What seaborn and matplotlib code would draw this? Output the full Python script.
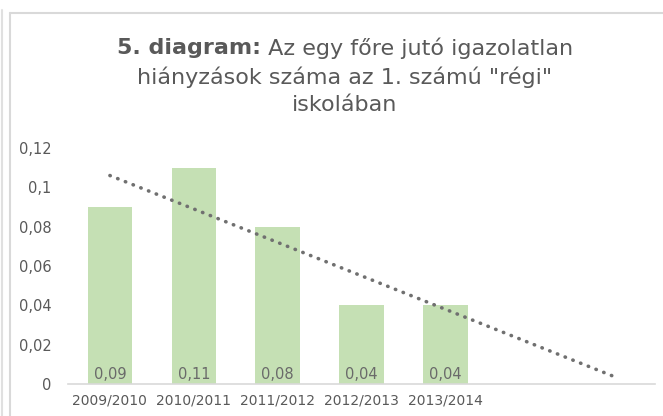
import matplotlib
matplotlib.use("Agg")
import matplotlib.pyplot as plt
import seaborn as sns
import numpy as np
import pandas as pd
from matplotlib.lines import Line2D

# data
years = ["2009/2010", "2010/2011", "2011/2012", "2012/2013", "2013/2014"]
values = [0.09, 0.11, 0.08, 0.04, 0.04]
value_labels = ["0,09", "0,11", "0,08", "0,04", "0,04"]
y_ticks = [0, 0.02, 0.04, 0.06, 0.08, 0.10, 0.12]
y_tick_labels = ["0", "0,02", "0,04", "0,06", "0,08", "0,1", "0,12"]
forecast_periods = 2  # Excel trendline runs 2 periods forward

bar_color = "#C5E0B4"
text_color = "#595959"
grid_color = "#D9D9D9"

sns.set_theme(style="white")
plt.rcParams["font.family"] = ["DejaVu Sans"]

df = pd.DataFrame({"year": years, "value": values})

fig = plt.figure(figsize=(6.63, 4.16), dpi=100)
W, H = 663, 416
ax = fig.add_axes([68 / W, 32 / H, (655 - 68) / W, (384 - 148) / H])

sns.barplot(data=df, x="year", y="value", order=years, color=bar_color,
            saturation=1, width=0.53, linewidth=0, ax=ax)

# linear trendline, extended forward
xs = np.arange(len(values))
coef = np.polyfit(xs + 1, values, 1)
x_trend = np.arange(len(values) + forecast_periods)
y_trend = np.polyval(coef, x_trend + 1)
ax.plot(x_trend, y_trend, linestyle=(0, (0.1, 2.2)), dash_capstyle="round",
        linewidth=2.6, color="#707070")

for i, lab in enumerate(value_labels):
    ax.text(i, 0.0047, lab, ha="center", va="center", fontsize=10.5, color="#6A6A6A")

ax.set_xlim(-0.5, len(values) + forecast_periods - 0.5)
ax.set_ylim(0, 0.12)
ax.set_yticks(y_ticks)
ax.set_yticklabels(y_tick_labels)
ax.set_xlabel("")
ax.set_ylabel("")
ax.tick_params(axis="y", length=0, labelsize=10.5, labelcolor=text_color, pad=12)
ax.tick_params(axis="x", length=0, labelsize=10, labelcolor=text_color, pad=7)
for s in ["top", "right", "left"]:
    ax.spines[s].set_visible(False)
ax.spines["bottom"].set_color(grid_color)
ax.spines["bottom"].set_linewidth(1.2)

# chart frame lines
fig.add_artist(Line2D([1.5 / W, 1.5 / W], [0, 1 - 10 / H], color="#E0E0E0", lw=1.5,
                      transform=fig.transFigure))
fig.add_artist(Line2D([9.5 / W, 9.5 / W], [0, 1 - 13 / H], color="#D9D9D9", lw=1.5,
                      transform=fig.transFigure))
fig.add_artist(Line2D([9.5 / W, 1], [1 - 13 / H, 1 - 13 / H], color="#D9D9D9", lw=1.5,
                      transform=fig.transFigure))

# title with bold prefix
cx = 345 / W
tsize = 16
t1 = fig.text(0, 1 - 48 / H, "5. diagram:", fontsize=tsize, fontweight="bold",
              color=text_color, ha="left", va="center")
t2 = fig.text(0, 1 - 48 / H, " Az egy főre jutó igazolatlan", fontsize=tsize,
              color=text_color, ha="left", va="center")
fig.canvas.draw()
r = fig.canvas.get_renderer()
w1 = t1.get_window_extent(r).width / W
w2 = t2.get_window_extent(r).width / W
start = cx - (w1 + w2) / 2
t1.set_x(start)
t2.set_x(start + w1)
fig.text(cx, 1 - 77 / H, "hiányzások száma az 1. számú \"régi\"", fontsize=tsize,
         color=text_color, ha="center", va="center")
fig.text(cx, 1 - 105 / H, "iskolában", fontsize=tsize, color=text_color,
         ha="center", va="center")

fig.savefig("out.png", dpi=100)
